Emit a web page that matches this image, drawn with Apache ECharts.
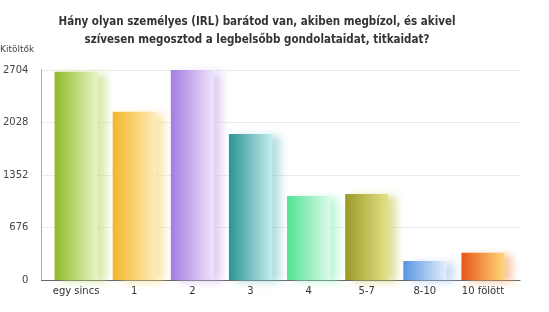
<!DOCTYPE html>
<html>
<head>
<meta charset="utf-8">
<script src="https://cdn.jsdelivr.net/npm/echarts@6/dist/echarts.min.js"></script>
<style>html,body{margin:0;padding:0;background:#fff;}#c{width:549px;height:312px;}</style>
</head>
<body>
<div id="c"></div>
<script>
const titleText = 'Hány olyan személyes (IRL) barátod van, akiben megbízol, és akivel\nszívesen megosztod a legbelsőbb gondolataidat, titkaidat?';
const yAxisName = 'Kitöltők';
const categories = ['egy sincs', '1', '2', '3', '4', '5-7', '8-10', '10 fölött'];
const values = [2680, 2167, 2704, 1880, 1082, 1107, 245, 352];
const yTicks = [0, 676, 1352, 2028, 2704];
const colorsDark = ['#8ebb28', '#f2b62a', '#a57ce0', '#2a9494', '#4ee392', '#9a9a28', '#5696e0', '#e8561a'];
const colorsLight = ['#e8f4c4', '#fcecb8', '#efe4fa', '#c6ecef', '#dcfaea', '#e4e286', '#e4eefa', '#fcd878'];
const shadowColors = ['rgba(190,220,120,0.6)', 'rgba(250,215,120,0.6)', 'rgba(205,180,240,0.6)', 'rgba(130,200,205,0.6)', 'rgba(150,240,190,0.6)', 'rgba(200,200,90,0.6)', 'rgba(160,195,240,0.6)', 'rgba(245,160,100,0.6)'];

const chart = echarts.init(document.getElementById('c'), null, {renderer: 'canvas'});
const font = '"DejaVu Sans", Verdana, sans-serif';
const yMax = yTicks[yTicks.length - 1];
const yInterval = yTicks[1] - yTicks[0];

chart.setOption({
  backgroundColor: '#fff',
  animation: false,
  title: {
    text: titleText,
    left: 252,
    top: 8,
    textAlign: 'center',
    textStyle: {fontFamily: '"DejaVu Sans Condensed", sans-serif', fontWeight: 'bold', fontSize: 11.5, lineHeight: 18, color: '#333'}
  },
  graphic: [{
    type: 'text', left: 0, top: 45,
    style: {text: yAxisName, fontFamily: font, fontSize: 9, fill: '#444'}
  }],
  grid: [
    {left: 47, right: 37, top: 70, bottom: 32},
    {left: 41, right: 29, top: 70, bottom: 32}
  ],
  xAxis: [
    {
      type: 'category', gridIndex: 0, data: categories,
      axisLine: {show: false}, axisTick: {show: false},
      axisLabel: {interval: 0, color: '#333', fontFamily: font, fontSize: 10, margin: 6}
    },
    {
      type: 'value', gridIndex: 1, min: 0, max: 1,
      axisLine: {show: true, onZero: false, lineStyle: {color: '#666', width: 1}},
      axisTick: {show: false}, axisLabel: {show: false}, splitLine: {show: false}
    }
  ],
  yAxis: [
    {type: 'value', gridIndex: 0, min: 0, max: yMax, show: false},
    {
      type: 'value', gridIndex: 1, min: 0, max: yMax, interval: yInterval,
      axisLine: {show: true, lineStyle: {color: '#aaa'}},
      axisTick: {show: false},
      axisLabel: {color: '#444', fontFamily: font, fontSize: 10, margin: 13, formatter: v => String(v)},
      splitLine: {show: true, lineStyle: {color: '#ebebeb'}}
    }
  ],
  series: [{
    type: 'bar', xAxisIndex: 0, yAxisIndex: 0, barWidth: 43,
    data: values.map((v, i) => ({
      value: v,
      itemStyle: {
        color: new echarts.graphic.LinearGradient(0, 0, 1, 0, [
          {offset: 0, color: colorsDark[i]},
          {offset: 1, color: colorsLight[i]}
        ]),
        shadowColor: shadowColors[i],
        shadowBlur: 8,
        shadowOffsetX: 8,
        shadowOffsetY: 2
      }
    }))
  }]
});
</script>
</body>
</html>
